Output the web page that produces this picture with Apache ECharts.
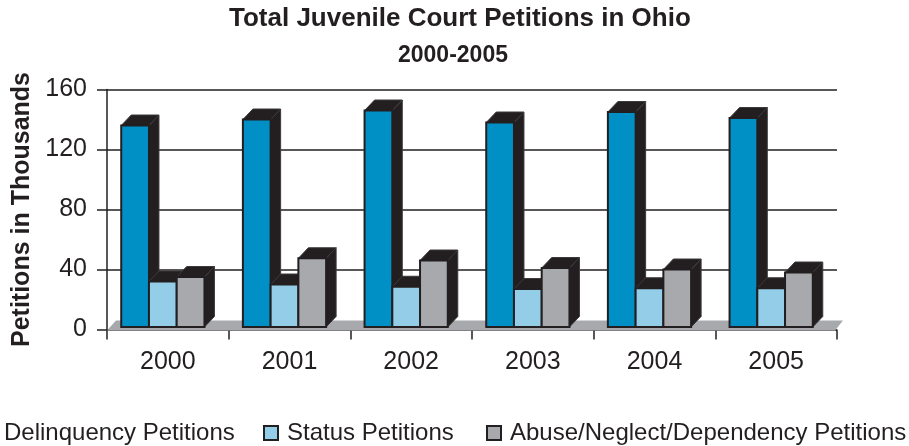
<!DOCTYPE html>
<html>
<head>
<meta charset="utf-8">
<script src="https://cdn.jsdelivr.net/npm/echarts@6/dist/echarts.min.js"></script>
<style>
  html, body { margin: 0; padding: 0; background: #fff; }
  #chart { width: 909px; height: 446px; }
</style>
</head>
<body>
<div id="chart"></div>
<script>
// Petitions (thousands) filed in Ohio juvenile courts, by year
const years = ['2000', '2001', '2002', '2003', '2004', '2005'];
const delinquency = [136, 140, 146, 138, 145, 141];
const statusPetitions = [32, 30, 28.5, 27, 27.5, 27.5];
const abuseNeglect = [35, 47.5, 46, 41, 40, 38];
const yTicks = [0, 40, 80, 120, 160];

const INK = '#231f20';
const FONT = '"Liberation Sans", Arial, Helvetica, sans-serif';

const seriesDefs = [
  { name: 'Delinquency Petitions', data: delinquency, color: '#0090c6' },
  { name: 'Status Petitions', data: statusPetitions, color: '#93cde8' },
  { name: 'Abuse/Neglect/Dependency Petitions', data: abuseNeglect, color: '#a7a9ac' }
];

// extruded-column look: front face plus a dark top cap and right side
const DEPTH_X = 10, DEPTH_Y = 10.5, BAR_FRAC = 0.228, LIFT = 2.5;

function columnRenderer(slot) {
  return function (params, api) {
    const cat = api.value(0);
    const val = api.value(1);
    const top = api.coord([cat, val]);
    const base = api.coord([cat, 0]);
    const band = api.size([1, 0])[0];
    const w = band * BAR_FRAC;
    const groupLeft = top[0] - (3 * w + DEPTH_X) / 2;
    const x0 = groupLeft + slot * w, x1 = x0 + w;
    const yb = base[1] - LIFT, yt = top[1];
    const edge = { fill: INK, stroke: '#3d3a3b', lineWidth: 1 };
    return {
      type: 'group',
      children: [
        { type: 'polygon', shape: { points: [[x1, yt], [x1 + DEPTH_X, yt - DEPTH_Y], [x1 + DEPTH_X, yb - DEPTH_Y], [x1, yb]] }, style: edge },
        { type: 'polygon', shape: { points: [[x0, yt], [x0 + DEPTH_X, yt - DEPTH_Y], [x1 + DEPTH_X, yt - DEPTH_Y], [x1, yt]] }, style: edge },
        { type: 'rect', shape: { x: x0, y: yt, width: w, height: yb - yt }, style: { fill: api.visual('color'), stroke: INK, lineWidth: 2 } }
      ]
    };
  };
}

// grey floor slab under the columns
function floorRenderer(params, api) {
  const cs = params.coordSys;
  const yb = cs.y + cs.height + 1;
  const yt = yb - 10;
  const xl = cs.x, xr = cs.x + cs.width;
  return {
    type: 'polygon',
    shape: { points: [[xl, yb], [xl + 9, yt], [xr + 6, yt], [xr - 2, yb]] },
    style: { fill: '#a8a9ad' }
  };
}

const series = [{
  type: 'custom',
  name: 'floor',
  renderItem: floorRenderer,
  data: [[0, 0]],
  z: 1,
  silent: true
}];
seriesDefs.forEach((s, i) => {
  series.push({
    type: 'custom',
    name: s.name,
    renderItem: columnRenderer(i),
    itemStyle: { color: s.color },
    data: s.data.map((v, k) => [k, v]),
    encode: { x: 0, y: 1 },
    z: 3
  });
});

function legendFor(i, left) {
  const s = seriesDefs[i];
  return {
    left: left,
    top: 421,
    padding: 0,
    itemWidth: 14,
    itemHeight: 14,
    itemGap: 0,
    selectedMode: false,
    data: [{ name: s.name, icon: 'rect', itemStyle: { color: s.color, borderColor: INK, borderWidth: 2 } }],
    textStyle: { fontFamily: FONT, fontSize: 24, color: INK, padding: [0, 0, 0, 4] }
  };
}

const chart = echarts.init(document.getElementById('chart'), null, { renderer: 'canvas' });
chart.setOption({
  animation: false,
  backgroundColor: '#fff',
  title: [
    { text: 'Total Juvenile Court Petitions in Ohio', left: 229, top: 6, padding: 0,
      textStyle: { fontFamily: FONT, fontSize: 26, fontWeight: 'bold', color: INK } },
    { text: '2000-2005', left: 398, top: 44, padding: 0,
      textStyle: { fontFamily: FONT, fontSize: 23, fontWeight: 'bold', color: INK } }
  ],
  legend: [legendFor(0, -20), legendFor(1, 263), legendFor(2, 486)],
  grid: { left: 107, right: 72, top: 89.5, bottom: 116.5, containLabel: false },
  xAxis: {
    type: 'category',
    data: years,
    boundaryGap: true,
    axisLine: { show: false },
    axisTick: { show: true, length: 10, lineStyle: { color: INK, width: 1.5 } },
    axisLabel: { margin: 20, fontFamily: FONT, fontSize: 25, color: INK },
    splitLine: { show: false }
  },
  yAxis: {
    type: 'value',
    min: yTicks[0],
    max: yTicks[yTicks.length - 1],
    interval: yTicks[1] - yTicks[0],
    name: 'Petitions in Thousands',
    nameLocation: 'middle',
    nameGap: 72,
    nameTextStyle: { fontFamily: FONT, fontSize: 25, fontWeight: 'bold', color: INK },
    axisLine: { show: true, lineStyle: { color: INK, width: 1.5 } },
    axisTick: { show: true, length: 10, lineStyle: { color: INK, width: 1.5 } },
    axisLabel: { margin: 20, fontFamily: FONT, fontSize: 25, color: INK },
    splitLine: { show: true, lineStyle: { color: INK, width: 1.5 } }
  },
  series: series
});
</script>
</body>
</html>
